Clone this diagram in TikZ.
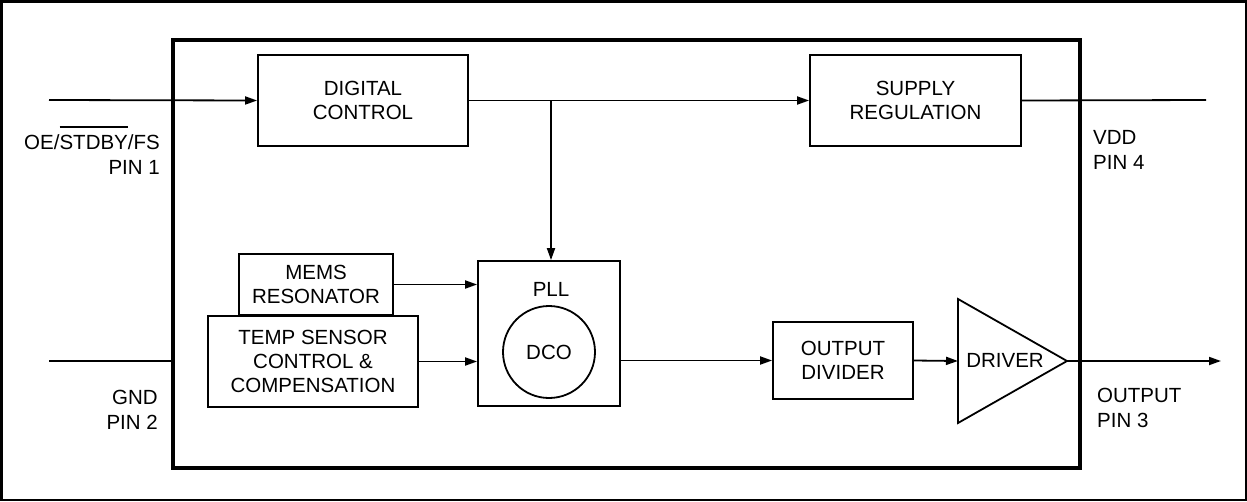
\documentclass[tikz,border=0pt]{standalone}
\usepackage{fontspec}
\setmainfont{Liberation Sans}
\usepackage{tikz}
\usetikzlibrary{arrows.meta, positioning, calc}

\newcommand{\pinbar}[1]{\setbox0\hbox{#1}\rlap{\raisebox{22pt}{\rule{\wd0}{2pt}}}#1}

\begin{document}
\begin{tikzpicture}[
  x=1pt, y=-1pt,
  every node/.style={font=\fontsize{20.5}{24}\selectfont},
  blk/.style={draw, line width=1.8pt, inner sep=0pt, align=center},
  pinlbl/.style={inner sep=0pt, font=\fontsize{20.5}{25}\selectfont},
  sig/.style={line width=1.8pt, -{Triangle[length=12pt,width=8pt]}},
  wire/.style={line width=1.8pt}
]
  \useasboundingbox (0,0) rectangle (1247,501);
  \draw[line width=2.5pt] (1.25,1.25) rectangle (1245.75,499.75);

  % chip outline
  \node[draw, line width=3.3pt, inner sep=0pt, minimum width=907pt, minimum height=428pt] (chip) at (626.5,254) {};

  % blocks
  \node[blk, minimum width=210pt, minimum height=91pt] (dc) at (363,100.5) {DIGITAL\\CONTROL};
  \node[blk, minimum width=211pt, minimum height=91pt] (sup) at (915.5,100.5) {SUPPLY\\REGULATION};
  \node[blk, minimum width=154pt, minimum height=61pt] (mems) at (316,284.5) {MEMS\\RESONATOR};
  \node[blk, minimum width=210pt, minimum height=91pt] (temp) at (313,361.5) {TEMP SENSOR\\CONTROL \&\\COMPENSATION};
  \node[blk, minimum width=142pt, minimum height=145pt] (pll) at (549,333.5) {};
  \node (plllbl) at (551,289) {PLL};
  \node[blk, circle, minimum size=92pt] (dco) at (549,352) {DCO};
  \node[blk, minimum width=140pt, minimum height=77pt] (div) at (843,360.5) {OUTPUT\\DIVIDER};

  % driver
  \coordinate (drvin) at (958,361);
  \coordinate (drvout) at (1067,361);
  \draw[line width=1.8pt, line join=miter] (958,299) -- (drvout) -- (958,423) -- cycle;
  \node (drv) at (1005,360) {DRIVER};

  % pins
  \coordinate (pin1) at (49,100);
  \coordinate (pin2) at (49,361);
  \coordinate (pin4) at (1206,100);
  \coordinate (pin3) at (1221,361);

  \node[pinlbl, anchor=east, align=right] (lbl1) at (160,150) {OE/\pinbar{STDBY}/FS\\PIN 1};
  \node[pinlbl, anchor=east, align=right] (lbl2) at (158,410) {GND\\PIN 2};
  \node[pinlbl, anchor=west, align=left] (lbl4) at (1093,150) {VDD\\PIN 4};
  \node[pinlbl, anchor=west, align=left] (lbl3) at (1097,408) {OUTPUT\\PIN 3};

  % connectors
  \draw[sig] (pin1) -- (dc.west);
  \draw[sig] (dc.east) -- (sup.west);
  \draw[sig] (dc.east -| 551,0) -- (pll.north -| 551,0);
  \draw[wire] (sup.east) -- (pin4);
  \draw[wire] (pin2) -- (pin2 -| chip.west);
  \draw[sig] (mems.east) -- (mems.east -| pll.west);
  \draw[sig] (temp.east) -- (temp.east -| pll.west);
  \draw[sig] (div.west -| pll.east) -- (div.west);
  \draw[sig] (div.east) -- (drvin);
  \draw[sig] (drvout) -- (pin3);
\end{tikzpicture}
\end{document}
